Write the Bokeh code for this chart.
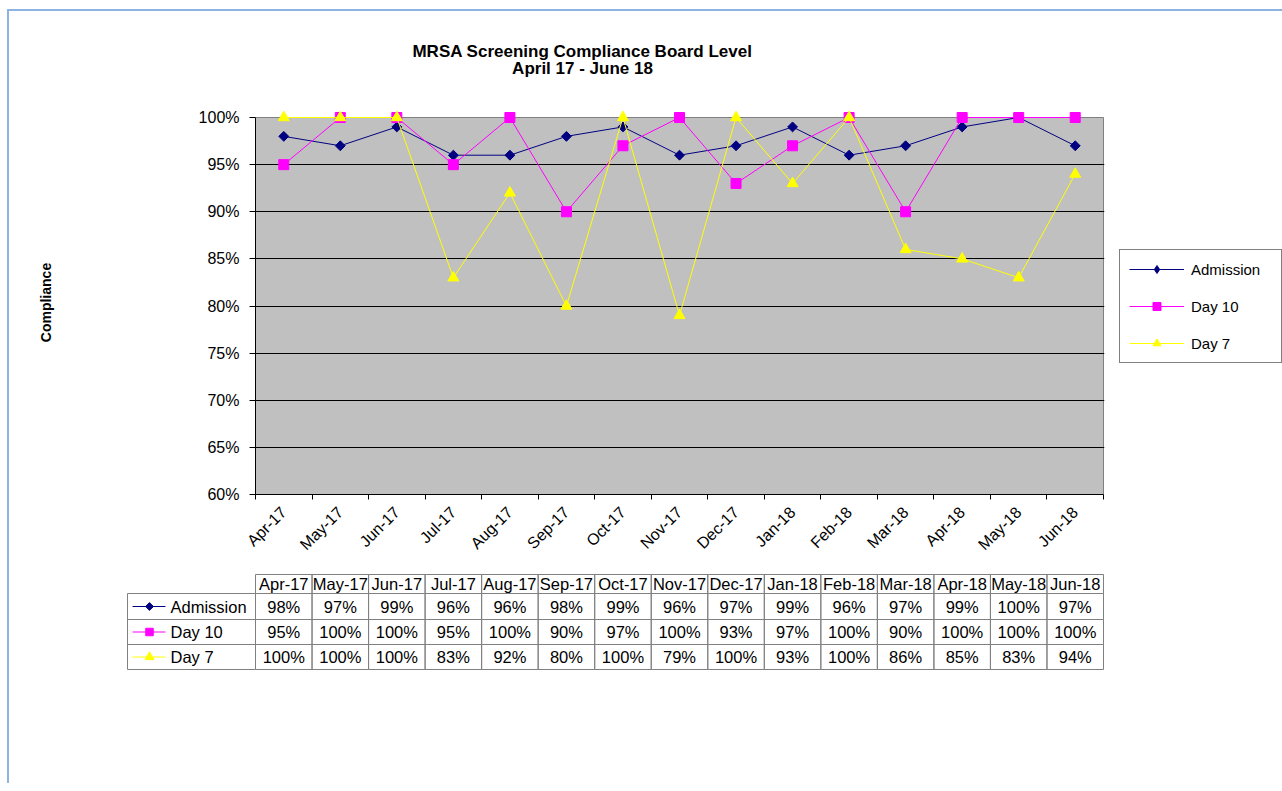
from math import pi
from bokeh.plotting import figure
from bokeh.models import (Range1d, FixedTicker, NumeralTickFormatter, Legend,
                          LegendItem)
from bokeh.embed import file_html
from bokeh.resources import INLINE
from bokeh.core.properties import value

# ---------------- data ----------------
months = ["Apr-17", "May-17", "Jun-17", "Jul-17", "Aug-17", "Sep-17", "Oct-17",
          "Nov-17", "Dec-17", "Jan-18", "Feb-18", "Mar-18", "Apr-18", "May-18",
          "Jun-18"]
admission = [98, 97, 99, 96, 96, 98, 99, 96, 97, 99, 96, 97, 99, 100, 97]
day10 = [95, 100, 100, 95, 100, 90, 97, 100, 93, 97, 100, 90, 100, 100, 100]
day7 = [100, 100, 100, 83, 92, 80, 100, 79, 100, 93, 100, 86, 85, 83, 94]
series_names = ["Admission", "Day 10", "Day 7"]
y_ticks = [0.60, 0.65, 0.70, 0.75, 0.80, 0.85, 0.90, 0.95, 1.00]
title_lines = ["MRSA Screening Compliance Board Level", "April 17 - June 18"]
y_label = "Compliance"

# ---------------- style ----------------
FONT = "Liberation Sans"
NAVY, MAGENTA, YELLOW = "#000080", "#FF00FF", "#FFFF00"
PLOT_GREY = "#C0C0C0"
EDGE_GREY = "#808080"
FRAME_BLUE = "#8DB3E2"
W = 1282
H_TITLE = 100
H_CHART = 472
H_TABLE = 211
N = len(months)
UNIT = 848 / N                          # pixels per category
YPX = 377 / (y_ticks[-1] - y_ticks[0])  # pixels per unit of y

GRAD = f"linear-gradient({FRAME_BLUE},{FRAME_BLUE})"
BG_TOP = {"background": f"{GRAD} 7px 9px/2px 100% no-repeat, "
                        f"{GRAD} 7px 9px/100% 2px no-repeat"}
BG_SIDE = {"background": f"{GRAD} 7px 0px/2px 100% no-repeat"}

xs = [i + 0.5 for i in range(N)]

# ---------------- title strip ----------------
ttl = figure(width=W, height=H_TITLE, output_backend="svg", toolbar_location=None,
             x_range=Range1d(0, W), y_range=Range1d(H_TITLE, 0),
             min_border=0, x_axis_location=None, y_axis_location=None,
             outline_line_color=None, background_fill_color=None,
             border_fill_color=None, styles=BG_TOP)
ttl.grid.visible = False
ttl.text(x=[582, 582], y=[51, 68], text=title_lines, text_font=value(FONT),
         text_font_style="bold", text_font_size=value("17px"),
         text_align="center", text_baseline="middle", text_color="black")

# ---------------- chart ----------------
FRAME_W = 849
FRAME_H = 384
p = figure(frame_width=FRAME_W, frame_height=FRAME_H,
           output_backend="svg", toolbar_location=None,
           x_range=Range1d(0, N + 1 / UNIT),
           y_range=Range1d(y_ticks[0], y_ticks[-1] + 7 / YPX),
           min_border_left=255, min_border_right=178, min_border_top=10,
           min_border_bottom=H_CHART - 10 - FRAME_H,
           background_fill_color="white",
           border_fill_color=None, outline_line_color=None, styles=BG_SIDE)

p.quad(left=[0], right=[N], bottom=[y_ticks[0]], top=[y_ticks[-1]],
       fill_color=PLOT_GREY, line_color=EDGE_GREY, line_width=1, level="image")

p.xgrid.visible = False
p.ygrid.ticker = FixedTicker(ticks=y_ticks[1:-1])
p.ygrid.grid_line_color = "black"
p.ygrid.grid_line_width = 1

series = [
    (admission, NAVY, dict(marker="square", angle=pi / 4, size=7), "diamond"),
    (day10, MAGENTA, dict(marker="square", size=10), "square"),
    (day7, YELLOW, dict(marker="triangle", size=11), "triangle"),
]
items = []
for name, (vals, col, mk, leg_marker) in zip(series_names, series):
    ys = [v / 100 for v in vals]
    rl = p.line(xs, ys, line_color=col, line_width=1)
    # legend swatch marker (hidden underneath the real markers)
    rk = p.scatter(xs, ys, marker=leg_marker, size=4, fill_color=col,
                   line_color=col)
    p.scatter(xs, ys, fill_color=col, line_color=col, **mk)
    items.append(LegendItem(label=name, renderers=[rl, rk]))

yax = p.yaxis[0]
yax.ticker = FixedTicker(ticks=y_ticks)
yax.formatter = NumeralTickFormatter(format="0%")
yax.bounds = (y_ticks[0], y_ticks[-1])
yax.major_tick_out = 6
yax.major_tick_in = 0
yax.minor_tick_out = 0
yax.minor_tick_in = 0
yax.major_label_standoff = 10
yax.major_label_text_font = FONT
yax.major_label_text_font_size = "16px"
yax.major_label_text_color = "black"
yax.axis_line_color = "black"
yax.major_tick_line_color = "black"
yax.axis_label = y_label
yax.axis_label_text_font = FONT
yax.axis_label_text_font_style = "bold"
yax.axis_label_text_font_size = "14px"
yax.axis_label_text_color = "black"
yax.axis_label_standoff = 142

xax = p.xaxis[0]
xax.ticker = FixedTicker(ticks=xs, minor_ticks=list(range(N + 1)))
xax.major_label_overrides = {x: m for x, m in zip(xs, months)}
xax.bounds = (0, N)
xax.major_tick_line_color = None
xax.major_tick_out = 0
xax.major_tick_in = 0
xax.minor_tick_out = 5
xax.minor_tick_in = 0
xax.minor_tick_line_color = "black"
xax.axis_line_color = "black"
xax.major_label_orientation = pi / 4
xax.major_label_standoff = 10
xax.major_label_text_font = FONT
xax.major_label_text_font_size = "16px"
xax.major_label_text_color = "black"

legend = Legend(items=items, location=(15, 131), orientation="vertical",
                padding=9, spacing=17, glyph_width=55, glyph_height=20,
                label_standoff=7, label_width=81, margin=0,
                border_line_color="black", border_line_width=1,
                background_fill_color="white", background_fill_alpha=1,
                label_text_font=FONT, label_text_font_size="15px",
                label_text_color="black")
p.add_layout(legend, "right")

# ---------------- data table ----------------
row_edges = [0, 19, 45, 70, 95]
LBL_LEFT = (127 - 255) / UNIT
t = figure(width=W, height=H_TABLE, output_backend="svg", toolbar_location=None,
           x_range=Range1d(-131 / UNIT, N + 2 / UNIT), y_range=Range1d(98, -2),
           min_border_left=124, min_border_right=177, min_border_top=0,
           min_border_bottom=H_TABLE - 100, x_axis_location=None,
           y_axis_location=None, outline_line_color=None,
           background_fill_color=None, border_fill_color=None, styles=BG_SIDE)
t.grid.visible = False

t.quad(left=list(range(N)), right=list(range(1, N + 1)),
       top=[row_edges[0]] * N, bottom=[row_edges[1]] * N,
       fill_color=None, line_color=EDGE_GREY, line_width=1)
t.text(x=xs, y=[(row_edges[0] + row_edges[1]) / 2] * N, text=months,
       text_font=value(FONT), text_font_size=value("16.5px"),
       text_align="center", text_baseline="middle", text_color="black")

small_sizes = [5.5, 7.5, 9]
for r, (name, (vals, col, mk, _)) in enumerate(zip(series_names, series)):
    top, bot = row_edges[r + 1], row_edges[r + 2]
    cy = (top + bot) / 2
    t.quad(left=[LBL_LEFT] + list(range(N)), right=[0] + list(range(1, N + 1)),
           top=[top] * (N + 1), bottom=[bot] * (N + 1),
           fill_color=None, line_color=EDGE_GREY, line_width=1)
    t.text(x=xs, y=[cy] * N, text=[f"{v}%" for v in vals],
           text_font=value(FONT), text_font_size=value("16.5px"),
           text_align="center", text_baseline="middle", text_color="black")
    t.line([(132 - 255) / UNIT, (165 - 255) / UNIT], [cy, cy],
           line_color=col, line_width=1)
    small = dict(mk)
    small["size"] = small_sizes[r]
    t.scatter([(149 - 255) / UNIT], [cy], fill_color=col, line_color=col, **small)
    t.text(x=[(170 - 255) / UNIT], y=[cy], text=[name], text_font=value(FONT),
           text_font_size=value("16.5px"), text_align="left",
           text_baseline="middle", text_color="black")

open("out.html", "w").write(file_html([ttl, p, t], INLINE))
